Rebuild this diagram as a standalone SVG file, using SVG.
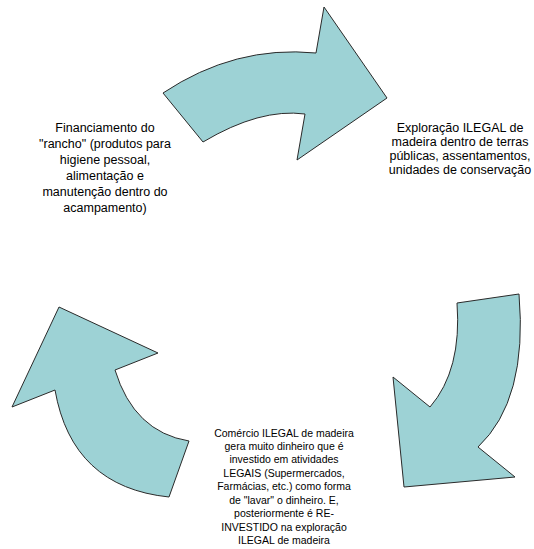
<svg xmlns="http://www.w3.org/2000/svg" width="534" height="549" viewBox="0 0 534 549">
<style>
.arrow{fill:#9dd2d5;stroke:#2a2a2a;stroke-width:1;stroke-linejoin:miter}
.t{font-family:"Liberation Sans",Arial,sans-serif;font-size:12.5px;fill:#000;text-anchor:middle}
.b{font-family:"Liberation Sans",Arial,sans-serif;font-size:10.5px;fill:#000;text-anchor:middle}
</style>
<rect width="534" height="549" fill="#fff"/>
<g id="connectors">
<path id="arrow-top" class="arrow" d="M163,93 Q235,45 316,53 L324,7 L387,98 L297,160 L305,114 Q260,108 203,142 Z"/>
<path id="arrow-right" class="arrow" d="M519,294 Q528,400 478,447 L515,477 L404,487 L393,377 L430,407 Q462,370 457,303 Z"/>
<path id="arrow-left" class="arrow" d="M169,497 Q72,487 55,390 L12,407 L59,307 L158,353 L115,370 Q134,432 189,441 Z"/>
</g>
<g id="node-financiamento">
<text class="t" x="105" y="132">Financiamento do</text>
<text class="t" x="105" y="148">"rancho" (produtos para</text>
<text class="t" x="105" y="164">higiene pessoal,</text>
<text class="t" x="105" y="180">alimentação e</text>
<text class="t" x="105" y="196">manutenção dentro do</text>
<text class="t" x="105" y="212">acampamento)</text>
</g>
<g id="node-exploracao">
<text class="t" x="460" y="132">Exploração ILEGAL de</text>
<text class="t" x="460" y="146">madeira dentro de terras</text>
<text class="t" x="460" y="160">públicas, assentamentos,</text>
<text class="t" x="460" y="174">unidades de conservação</text>
</g>
<g id="node-comercio">
<text class="b" x="284" y="437">Comércio ILEGAL de madeira</text>
<text class="b" x="284" y="450">gera muito dinheiro que é</text>
<text class="b" x="284" y="463">investido em atividades</text>
<text class="b" x="284" y="477">LEGAIS (Supermercados,</text>
<text class="b" x="284" y="490">Farmácias, etc.) como forma</text>
<text class="b" x="284" y="504">de "lavar" o dinheiro. E,</text>
<text class="b" x="284" y="517">posteriormente é RE-</text>
<text class="b" x="284" y="531">INVESTIDO na exploração</text>
<text class="b" x="284" y="544">ILEGAL de madeira</text>
</g>
</svg>
